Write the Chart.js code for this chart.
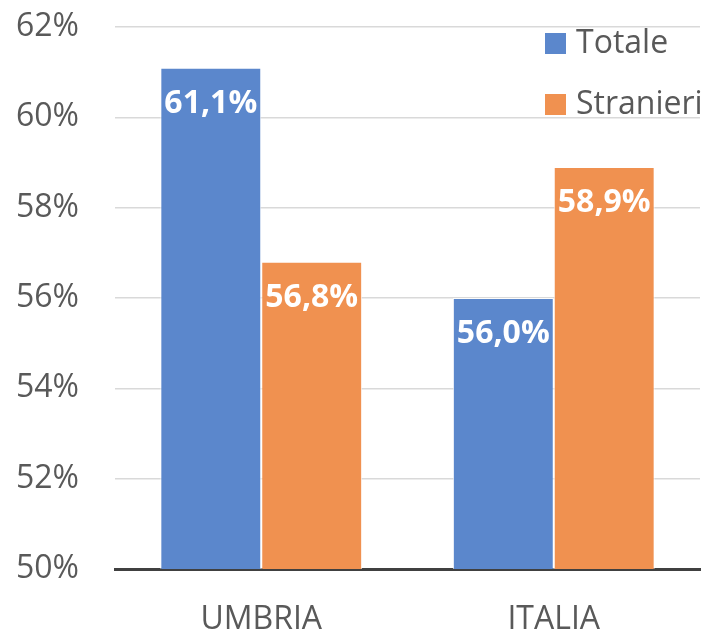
<!DOCTYPE html>
<html>
<head>
<meta charset="utf-8">
<script src="https://cdn.jsdelivr.net/npm/chart.js@4"></script>
<style>
  html, body { margin: 0; padding: 0; background: #fff; }
  #wrap { position: relative; width: 708px; height: 631px; }
</style>
</head>
<body>
<div id="wrap"><canvas id="chart" width="708" height="631"></canvas></div>
<script>
// ── Data ───────────────────────────────────────────────────────────────────
const categories = ['UMBRIA', 'ITALIA'];
const totale = [61.1, 56.0];
const stranieri = [56.8, 58.9];
const seriesNames = ['Totale', 'Stranieri'];
const seriesColors = ['#5b87cc', '#f09150'];

const FONT = 'Open Sans';
const fmt = v => v.toFixed(1).replace('.', ',') + '%';

// ── Bar value labels (white, bold, inside top) ─────────────────────────────
const valueLabels = {
  id: 'valueLabels',
  afterDatasetsDraw(chart) {
    const ctx = chart.ctx;
    ctx.save();
    ctx.font = 'bold 32px "' + FONT + '"';
    ctx.fillStyle = '#ffffff';
    ctx.textAlign = 'center';
    ctx.textBaseline = 'middle';
    chart.data.datasets.forEach((ds, i) => {
      chart.getDatasetMeta(i).data.forEach((bar, j) => {
        ctx.fillText(fmt(ds.data[j]), bar.x, bar.y + 36);
      });
    });
    ctx.restore();
  }
};

// ── Vertical legend top right ──────────────────────────────────────────────
const sideLegend = {
  id: 'sideLegend',
  afterDraw(chart) {
    const ctx = chart.ctx;
    ctx.save();
    ctx.font = '32px "' + FONT + '"';
    ctx.textBaseline = 'middle';
    ctx.textAlign = 'left';
    chart.data.datasets.forEach((ds, i) => {
      const y = 43 + i * 61;
      ctx.fillStyle = ds.backgroundColor;
      ctx.fillRect(545, y - 10, 21, 21);
      ctx.fillStyle = '#595959';
      ctx.fillText(ds.label, 576, y + 1);
    });
    ctx.restore();
  }
};

new Chart(document.getElementById('chart'), {
  type: 'bar',
  data: {
    labels: categories,
    datasets: [
      { label: seriesNames[0], data: totale, backgroundColor: seriesColors[0] },
      { label: seriesNames[1], data: stranieri, backgroundColor: seriesColors[1] }
    ]
  },
  options: {
    responsive: false,
    animation: false,
    layout: { padding: { top: 27, right: 8, left: 0, bottom: 0 } },
    datasets: {
      bar: {
        categoryPercentage: 0.69,
        barPercentage: 1.0,
        borderColor: 'rgba(255,255,255,0.8)',
        borderWidth: 1
      }
    },
    plugins: {
      legend: { display: false },
      tooltip: { enabled: false }
    },
    scales: {
      x: {
        z: 1,
        grid: { display: false, drawTicks: false },
        border: { display: true, color: '#404040', width: 3 },
        ticks: { color: '#595959', font: { family: FONT, size: 32 }, padding: 32 },
        afterFit(scale) {
          scale.height = 62;
          scale.paddingLeft = 0;
          scale.paddingRight = 0;
        }
      },
      y: {
        min: 50,
        max: 62,
        ticks: {
          stepSize: 2,
          color: '#595959',
          font: { family: FONT, size: 32 },
          padding: 36,
          callback: v => v + '%'
        },
        grid: { color: '#d9d9d9', lineWidth: 1.5, drawTicks: false },
        border: { display: false },
        afterFit(scale) {
          scale.width = 115;
          scale.paddingTop = 0;
          scale.paddingBottom = 0;
        }
      }
    }
  },
  plugins: [valueLabels, sideLegend]
});
</script>
</body>
</html>
